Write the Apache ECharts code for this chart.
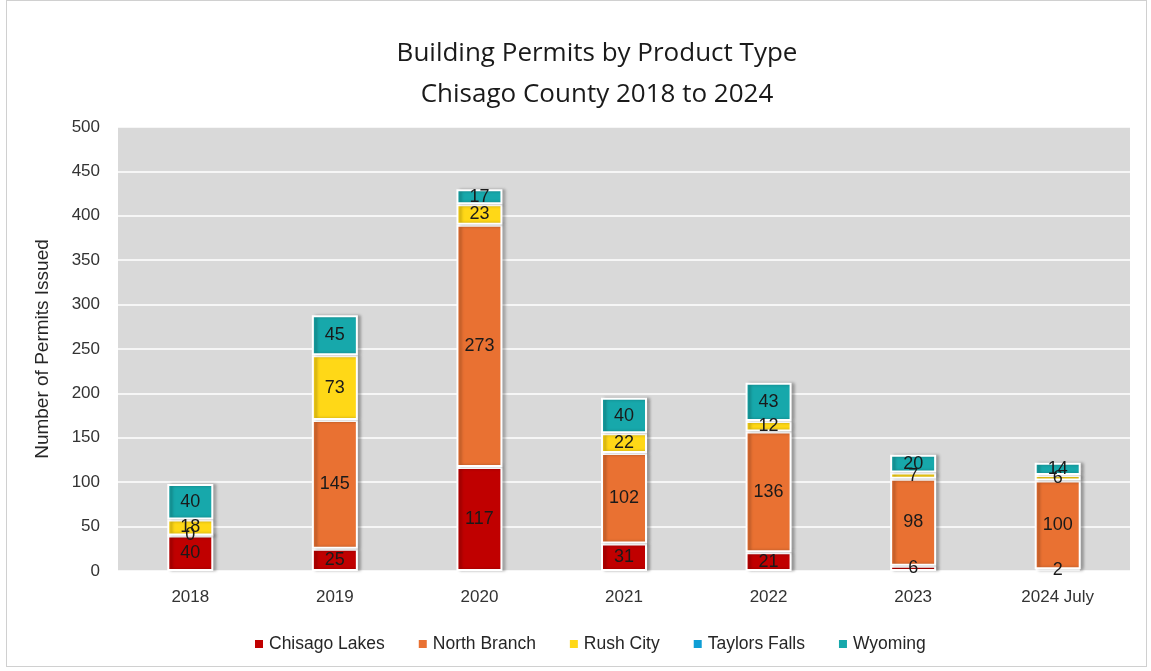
<!DOCTYPE html>
<html>
<head>
<meta charset="utf-8">
<script src="https://cdn.jsdelivr.net/npm/echarts@6/dist/echarts.min.js"></script>
<style>
  html, body { margin: 0; padding: 0; background: #fff; }
  #frame { position: absolute; left: 6px; top: 0; width: 1141px; height: 667px; border: 1px solid #d0d0d0; box-sizing: border-box; }
  #chart { width: 1151px; height: 671px; position: absolute; left: 0; top: 0; }
</style>
</head>
<body>
<div id="frame"></div>
<div id="chart"></div>
<script>
const years = ['2018', '2019', '2020', '2021', '2022', '2023', '2024 July']
const chisagoLakes = [40, 25, 117, 31, 21, 6, 2]
const northBranch = [0, 145, 273, 102, 136, 98, 100]
const rushCity = [18, 73, 23, 22, 12, 7, 6]
const taylorsFalls = [null, null, null, null, null, null, null]
const wyoming = [40, 45, 17, 40, 43, 20, 14]

const chart = echarts.init(document.getElementById('chart'))
const font = 'Liberation Sans, Arial, sans-serif'

function makeSeries(name, data, color) {
  return {
    name: name,
    type: 'bar',
    stack: 'total',
    data: data,
    barWidth: 46,
    itemStyle: {
      color: color,
      borderColor: '#fff',
      borderWidth: 2,
      shadowColor: 'rgba(0,0,0,0.28)',
      shadowBlur: 3,
      shadowOffsetX: 3,
      shadowOffsetY: 0
    },
    label: {
      show: true,
      position: 'inside',
      color: '#1a1a1a',
      fontSize: 18,
      fontFamily: font,
      formatter: (p) => (p.value == null ? '' : String(p.value))
    },
    emphasis: { disabled: true }
  }
}

const option = {
  animation: false,
  title: {
    text: 'Building Permits by Product Type\nChisago County 2018 to 2024',
    left: 592,
    textAlign: 'center',
    top: 28,
    textStyle: {
      fontSize: 26,
      fontWeight: 'normal',
      color: '#1a1a1a',
      lineHeight: 41,
      fontFamily: 'Open Sans, Liberation Sans, sans-serif'
    }
  },
  grid: {
    left: 118,
    right: 21,
    top: 127,
    bottom: 100,
    show: true,
    backgroundColor: '#d9d9d9',
    borderWidth: 0
  },
  legend: {
    bottom: 13,
    left: 248,
    itemWidth: 10,
    itemHeight: 10,
    itemGap: 32,
    icon: 'rect',
    textStyle: {
      fontSize: 17.5,
      color: '#262626',
      fontFamily: font
    },
    data: ['Chisago Lakes', 'North Branch', 'Rush City', 'Taylors Falls', 'Wyoming']
  },
  xAxis: {
    type: 'category',
    data: years,
    axisTick: { show: false },
    axisLine: { show: false },
    axisLabel: {
      fontSize: 17,
      color: '#333',
      margin: 18,
      fontFamily: font
    }
  },
  yAxis: {
    type: 'value',
    min: 0,
    max: 500,
    interval: 50,
    name: 'Number of Permits Issued',
    nameLocation: 'middle',
    nameGap: 66,
    nameTextStyle: {
      fontSize: 19,
      color: '#262626',
      fontFamily: font
    },
    axisLabel: {
      fontSize: 17,
      color: '#333',
      margin: 18,
      fontFamily: font
    },
    splitLine: { lineStyle: { color: '#ffffff', width: 1.5 } }
  },
  series: [
    makeSeries('Chisago Lakes', chisagoLakes, '#c00000'),
    makeSeries('North Branch', northBranch, '#e97132'),
    makeSeries('Rush City', rushCity, '#ffd817'),
    makeSeries('Taylors Falls', taylorsFalls, '#0f9ed5'),
    makeSeries('Wyoming', wyoming, '#17a8ab')
  ]
}

chart.setOption(option)
</script>
</body>
</html>
